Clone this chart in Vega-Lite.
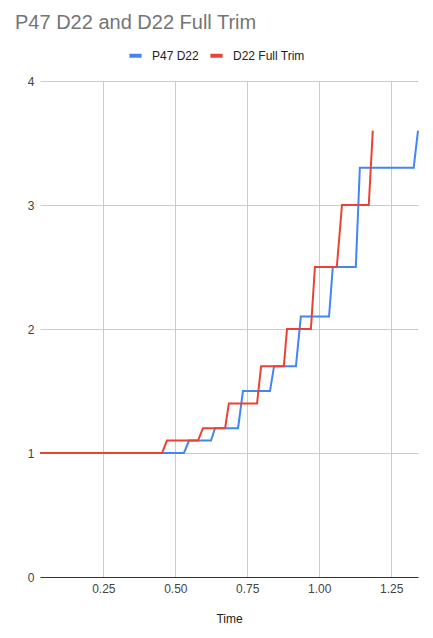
{
  "$schema": "https://vega.github.io/schema/vega-lite/v6.json",
  "width": 378,
  "height": 496,
  "autosize": "none",
  "padding": {"left": 40, "top": 81, "right": 15, "bottom": 61},
  "background": "white",
  "title": {
    "text": "P47 D22 and D22 Full Trim",
    "anchor": "start",
    "frame": "group",
    "dx": -25,
    "offset": 14,
    "font": "Liberation Sans",
    "fontSize": 20,
    "fontWeight": "normal",
    "color": "#757575"
  },
  "config": {
    "view": {"stroke": null},
    "font": "Liberation Sans"
  },
  "data": {
    "values": [
      {"series": "P47 D22", "t": 0.030, "v": 1.0},
      {"series": "P47 D22", "t": 0.530, "v": 1.0},
      {"series": "P47 D22", "t": 0.548, "v": 1.1},
      {"series": "P47 D22", "t": 0.624, "v": 1.1},
      {"series": "P47 D22", "t": 0.638, "v": 1.2},
      {"series": "P47 D22", "t": 0.718, "v": 1.2},
      {"series": "P47 D22", "t": 0.735, "v": 1.5},
      {"series": "P47 D22", "t": 0.829, "v": 1.5},
      {"series": "P47 D22", "t": 0.843, "v": 1.7},
      {"series": "P47 D22", "t": 0.919, "v": 1.7},
      {"series": "P47 D22", "t": 0.936, "v": 2.1},
      {"series": "P47 D22", "t": 1.034, "v": 2.1},
      {"series": "P47 D22", "t": 1.047, "v": 2.5},
      {"series": "P47 D22", "t": 1.127, "v": 2.5},
      {"series": "P47 D22", "t": 1.141, "v": 3.3},
      {"series": "P47 D22", "t": 1.328, "v": 3.3},
      {"series": "P47 D22", "t": 1.343, "v": 3.6},
      {"series": "D22 Full Trim", "t": 0.030, "v": 1.0},
      {"series": "D22 Full Trim", "t": 0.454, "v": 1.0},
      {"series": "D22 Full Trim", "t": 0.471, "v": 1.1},
      {"series": "D22 Full Trim", "t": 0.579, "v": 1.1},
      {"series": "D22 Full Trim", "t": 0.596, "v": 1.2},
      {"series": "D22 Full Trim", "t": 0.673, "v": 1.2},
      {"series": "D22 Full Trim", "t": 0.686, "v": 1.4},
      {"series": "D22 Full Trim", "t": 0.784, "v": 1.4},
      {"series": "D22 Full Trim", "t": 0.798, "v": 1.7},
      {"series": "D22 Full Trim", "t": 0.877, "v": 1.7},
      {"series": "D22 Full Trim", "t": 0.888, "v": 2.0},
      {"series": "D22 Full Trim", "t": 0.971, "v": 2.0},
      {"series": "D22 Full Trim", "t": 0.985, "v": 2.5},
      {"series": "D22 Full Trim", "t": 1.061, "v": 2.5},
      {"series": "D22 Full Trim", "t": 1.079, "v": 3.0},
      {"series": "D22 Full Trim", "t": 1.172, "v": 3.0},
      {"series": "D22 Full Trim", "t": 1.186, "v": 3.6}
    ]
  },
  "mark": {"type": "line", "strokeWidth": 2, "interpolate": "linear"},
  "encoding": {
    "x": {
      "field": "t",
      "type": "quantitative",
      "title": "Time",
      "scale": {"domain": [0.030, 1.343], "nice": false, "zero": false},
      "axis": {
        "values": [0.25, 0.5, 0.75, 1.0, 1.25],
        "format": ".2f",
        "grid": true,
        "gridColor": "#cccccc",
        "ticks": false,
        "domain": true,
        "domainColor": "#333333",
        "domainWidth": 1,
        "labelFontSize": 12,
        "labelColor": "#444444",
        "labelPadding": 6,
        "titleFontSize": 12,
        "titleFontWeight": "normal",
        "titleColor": "#222222",
        "titlePadding": 19
      }
    },
    "y": {
      "field": "v",
      "type": "quantitative",
      "title": null,
      "scale": {"domain": [0, 4], "nice": false},
      "axis": {
        "values": [0, 1, 2, 3, 4],
        "grid": true,
        "gridColor": "#cccccc",
        "ticks": false,
        "domain": false,
        "labelFontSize": 12,
        "labelColor": "#444444",
        "labelPadding": 6
      }
    },
    "color": {
      "field": "series",
      "type": "nominal",
      "scale": {"domain": ["P47 D22", "D22 Full Trim"], "range": ["#4285F4", "#EA4335"]},
      "legend": {
        "title": null,
        "orient": "none",
        "direction": "horizontal",
        "legendX": 87,
        "legendY": -34,
        "symbolType": "stroke",
        "symbolSize": 150,
        "symbolStrokeWidth": 4,
        "labelFontSize": 12,
        "labelColor": "#222222",
        "columnPadding": 3,
        "labelOffset": 8
      }
    },
    "order": {"field": "t", "type": "quantitative"}
  }
}
